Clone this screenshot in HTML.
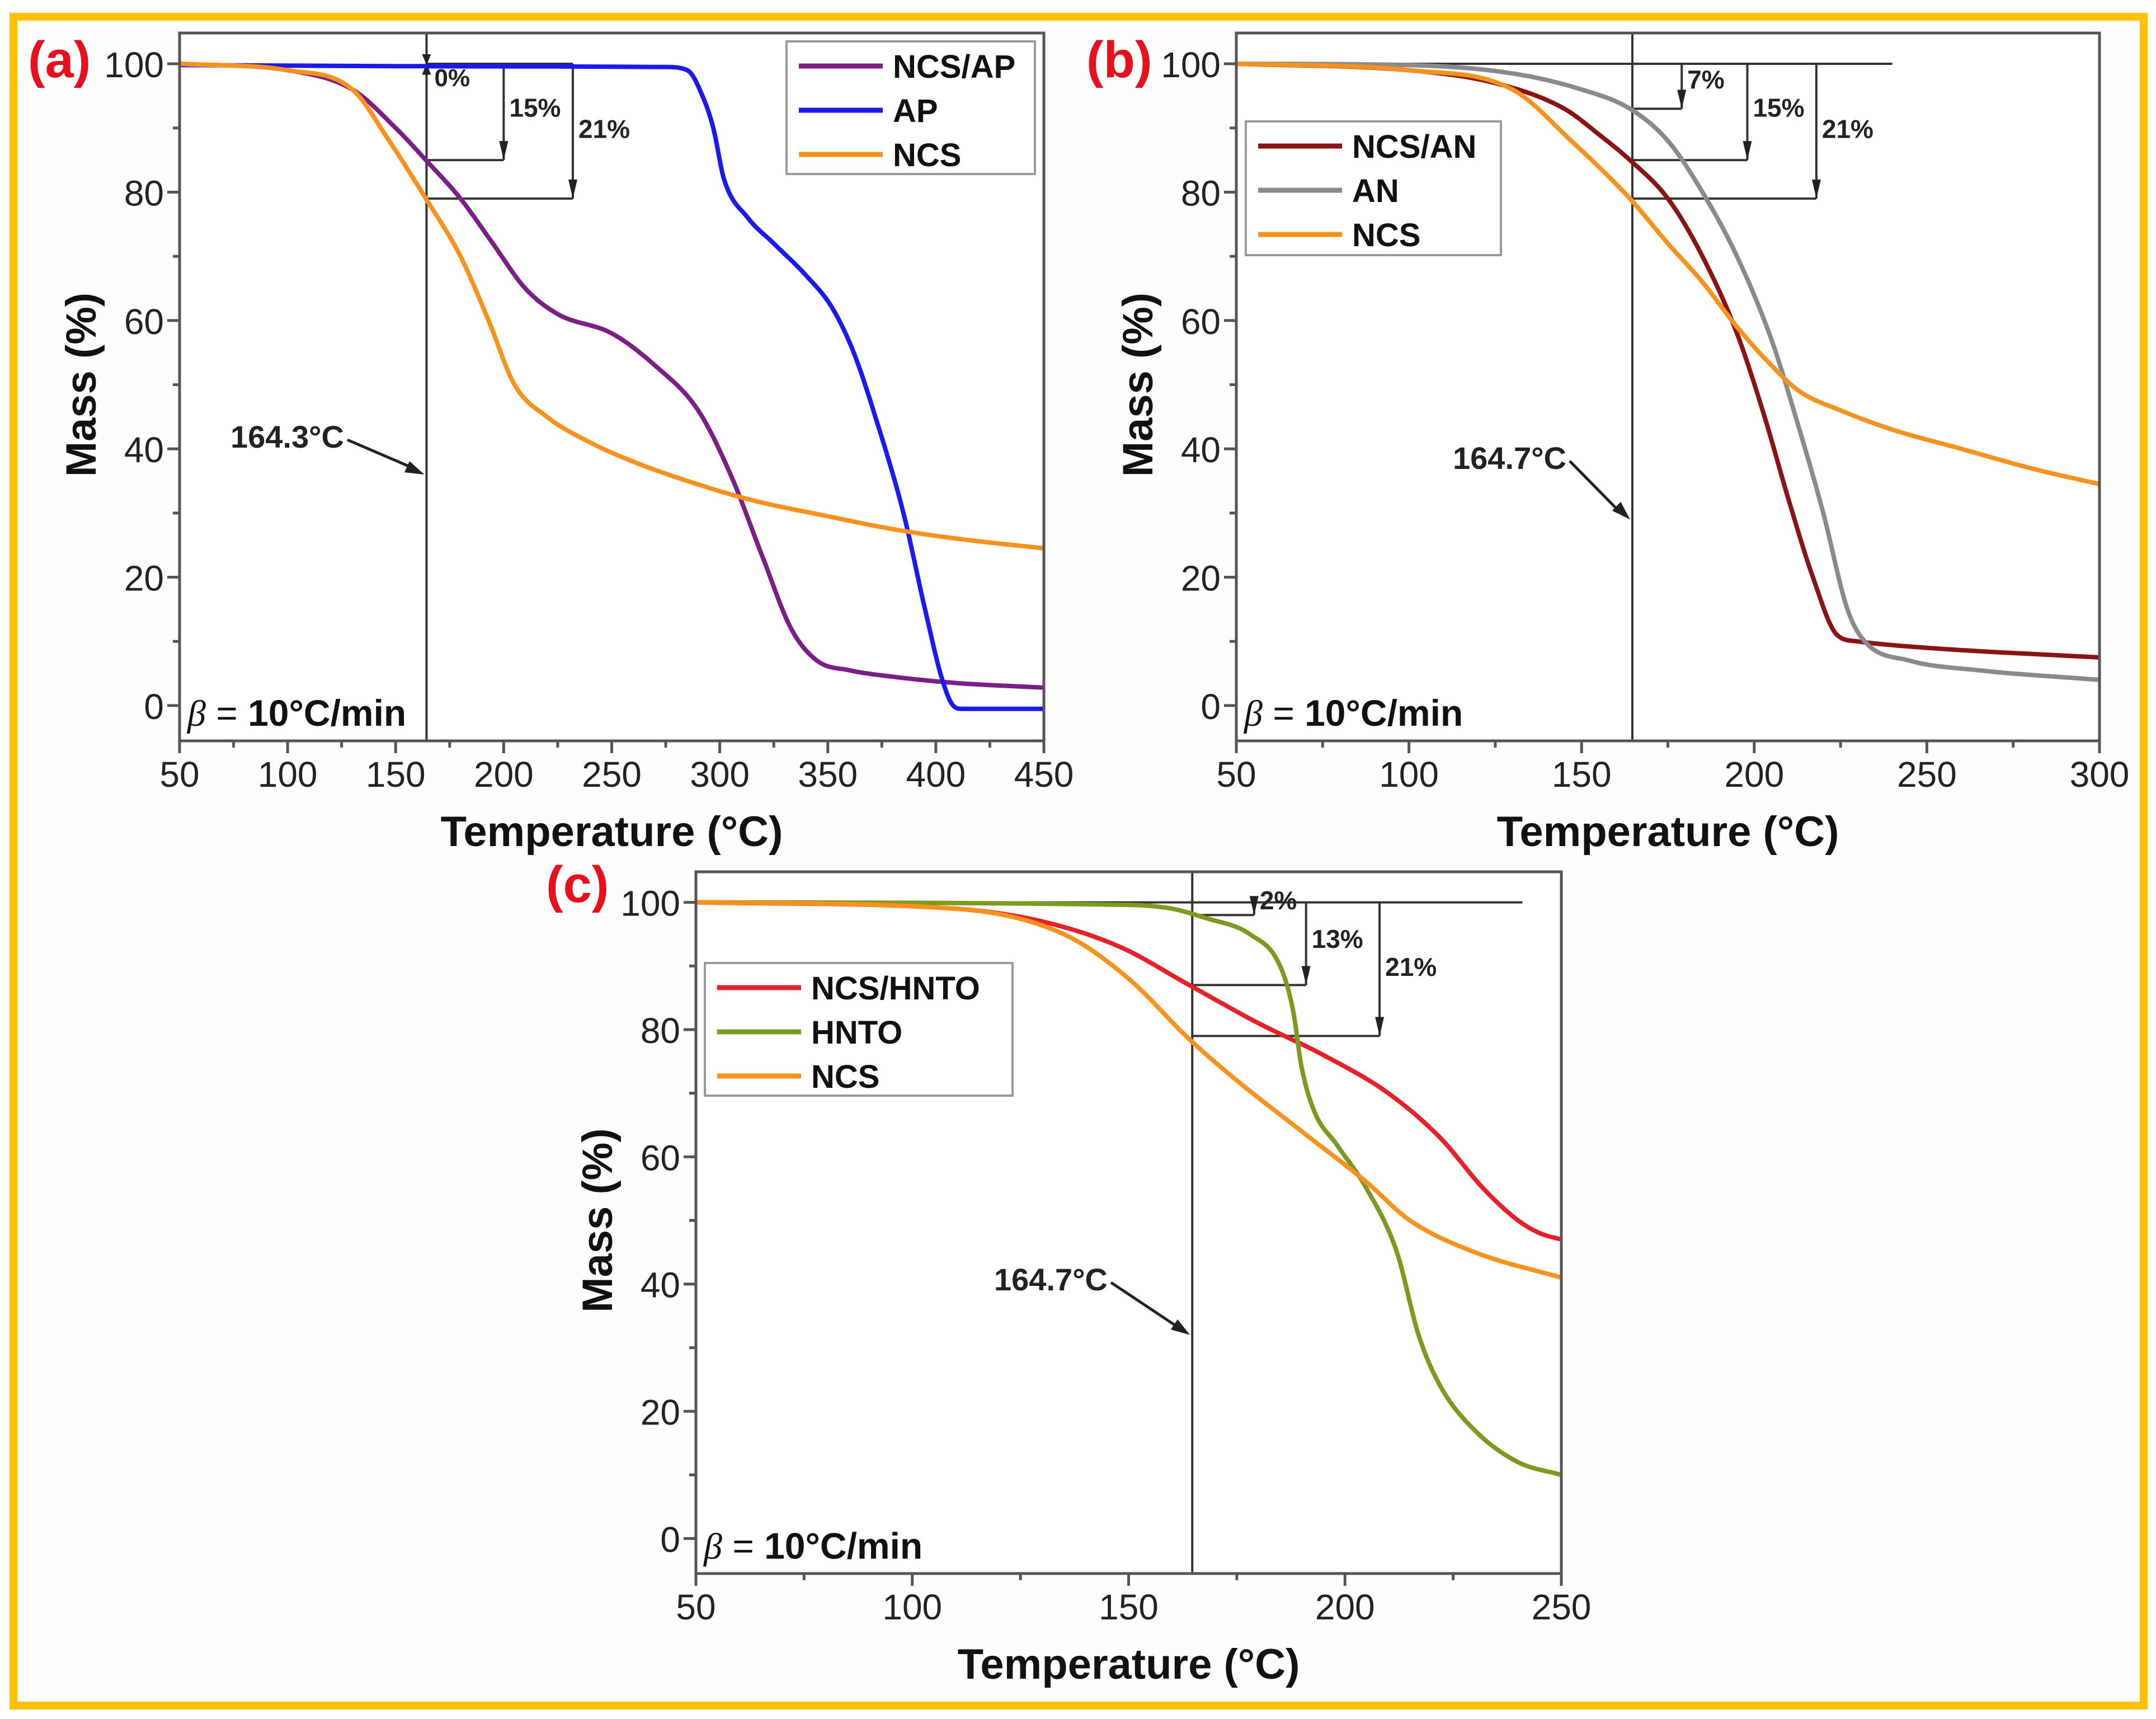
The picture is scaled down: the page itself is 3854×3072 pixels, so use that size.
<!DOCTYPE html>
<html><head><meta charset="utf-8">
<style>
html,body{margin:0;padding:0;background:#fff;}
svg{display:block;font-family:"Liberation Sans",sans-serif;}
</style></head>
<body>
<svg id="fig" width="3854" height="3072" viewBox="0 0 3854 3072" xmlns="http://www.w3.org/2000/svg">
<rect x="0" y="0" width="3854" height="3072" fill="#fff"/>
<rect x="24" y="30" width="3808" height="3018" fill="#fdfdfd" stroke="#FFC000" stroke-width="14"/>
</svg>
<script>
// ---- Panel (a) data ----
const aNcsApX = [50,100,130,150,164,180,195,210,225,250,270,290,305,320,333,345,360,380,410,450];
const aNcsApY = [100,99,96,90,85,79,72,65,61,58,53,46,36,23,12,7,5.5,4.5,3.5,2.8];
const aApX = [50,200,275,285,292,297,302,313,325,340,352,362,372,385,395,403,408,412,450];
const aApY = [99.8,99.6,99.5,99,95,90,82,76,72,67,62,55,45,30,15,4,0,-0.5,-0.5];
const aNcsX = [50,100,130,147,164,180,193,205,220,240,260,285,315,350,380,410,450];
const aNcsY = [100,99,96,88,79,70,60,50,45,41,38,35,32,29.5,27.5,26,24.5];
const aXTicks = [50,100,150,200,250,300,350,400,450];
const aBrackets = [0,15,21];
const aBracketX = [164.3,200,232];
// ---- Panel (b) data ----
const bNcsAnX = [50,100,125,145,155,164,175,185,195,203,210,217,224,230,250,300];
const bNcsAnY = [100,99,97,93,89,85,79,70,58,45,32,20,11,10,9,7.5];
const bAnX = [50,100,130,150,164,175,185,195,205,212,220,227,232,245,265,300];
const bAnY = [100,99.8,98.5,96,93,88,80,70,57,45,30,15,10,7,5.5,4];
const bNcsX = [50,100,130,147,164,175,185,195,205,213,225,240,260,280,300];
const bNcsY = [100,99,96,88,79,72,66,59,53,49,46,43,40,37,34.5];
const bXTicks = [50,100,150,200,250,300];
const bBrackets = [7,15,21];
const bBracketX = [179,198,218];
// ---- Panel (c) data ----
const cNcsHX = [50,110,130,148,164,180,195,210,222,232,240,245,250];
const cNcsHY = [100,99,97,93,87,81,76,70,63,55,50,48,47];
const cHntoX = [50,150,160,168,178,185,188,190,193,198,205,212,217,222,230,240,250];
const cHntoY = [100,99.6,99,97.5,95,90,83,74,67,62,55,45,32,24,17,12,10];
const cNcsX = [50,110,135,150,164,175,190,205,215,230,250];
const cNcsY = [100,99,95,88,78.5,72,64,56,50,45,41];
const cXTicks = [50,100,150,200,250];
const cBrackets = [2,13,21];
const cBracketX = [179,191,208];
const yTicks = [0,20,40,60,80,100];

const NS = "http://www.w3.org/2000/svg";
const svg = document.getElementById('fig');
function mk(tag, attrs, parent){const e=document.createElementNS(NS,tag);for(const k in attrs)e.setAttribute(k,attrs[k]);(parent||svg).appendChild(e);return e;}
function txt(s, attrs, parent){const e=mk('text',attrs,parent);e.textContent=s;return e;}

// monotone cubic (Fritsch-Carlson) sampling in data space
function monoSample(xs, ys, n){
  const m=xs.length, d=[], t=new Array(m);
  for(let i=0;i<m-1;i++) d.push((ys[i+1]-ys[i])/(xs[i+1]-xs[i]));
  t[0]=d[0]; t[m-1]=d[m-2];
  for(let i=1;i<m-1;i++){ t[i]=(d[i-1]*d[i]<=0)?0:(d[i-1]+d[i])/2; }
  for(let i=0;i<m-1;i++){
    if(d[i]===0){t[i]=0;t[i+1]=0;continue;}
    const a=t[i]/d[i], b=t[i+1]/d[i], s=a*a+b*b;
    if(s>9){const k=3/Math.sqrt(s);t[i]=k*a*d[i];t[i+1]=k*b*d[i];}
  }
  const out=[];
  for(let i=0;i<m-1;i++){
    const h=xs[i+1]-xs[i];
    for(let j=0;j<n;j++){
      const u=j/n, u2=u*u, u3=u2*u;
      const y=(2*u3-3*u2+1)*ys[i]+(u3-2*u2+u)*h*t[i]+(-2*u3+3*u2)*ys[i+1]+(u3-u2)*h*t[i+1];
      out.push([xs[i]+u*h,y]);
    }
  }
  out.push([xs[m-1],ys[m-1]]);
  return out;
}

function panel(cfg){
  const g=mk('g',{});
  
  
  const L=cfg.L,R=cfg.R,T=cfg.T,B=cfg.B,ymin=-5.5,ymax=104.8;
  const sx=v=>L+(v-cfg.xmin)/(cfg.xmax-cfg.xmin)*(R-L);
  const sy=v=>B-(v-ymin)/(ymax-ymin)*(B-T);
  mk('rect',{x:L,y:T,width:R-L,height:B-T,fill:'#fff'},g);
  const ag=mk('g',{stroke:'#333','stroke-width':4,fill:'none'},g);
  
  
  const vx=sx(cfg.vline);
  mk('line',{x1:vx,y1:T,x2:vx,y2:B},ag);
  mk('line',{x1:cfg.hStart!=null?sx(cfg.hStart):vx,y1:sy(100),x2:sx(cfg.hEnd),y2:sy(100)},ag);
  cfg.brackets.forEach((p,i)=>{
    const bx=sx(cfg.bx[i]), by=sy(100-p);
    if(p===0){
      mk('line',{x1:vx,y1:sy(104),x2:vx,y2:sy(97)},ag);
      mk('path',{d:`M${vx-8},${sy(101.5)} L${vx+8},${sy(101.5)} L${vx},${sy(99.8)}Z`,fill:'#222',stroke:'none'},g);
      mk('path',{d:`M${vx-8},${sy(98.3)} L${vx+8},${sy(98.3)} L${vx},${sy(100.1)}Z`,fill:'#222',stroke:'none'},g);
      const t=txt(p+'%',{x:vx+14,y:sy(96.5),'font-size':44,'font-weight':'bold',fill:'#222'},g);
      
      
      return;
    }
    mk('line',{x1:vx,y1:by,x2:bx,y2:by},ag);
    mk('line',{x1:bx,y1:sy(100),x2:bx,y2:by},ag);
    mk('path',{d:`M${bx-8},${by-34} L${bx+8},${by-34} L${bx},${by}Z`,fill:'#222'},g);
    const t=txt(p+'%',{x:bx+10,y:sy(100-p*0.55),'font-size':46,'font-weight':'bold',fill:'#222'},g);
    
    
  });
  cfg.series.forEach(s=>{
    const pts=monoSample(s.x,s.y,12).map(p=>[sx(p[0]).toFixed(1),sy(p[1]).toFixed(1)]);
    const d='M'+pts.map(p=>p[0]+','+p[1]).join(' L');
    const p=mk('path',{d:d,fill:'none',stroke:s.color,'stroke-width':8,'stroke-linejoin':'round'},g);
    
    
  });
  const fr=mk('rect',{x:L,y:T,width:R-L,height:B-T,fill:'none',stroke:'#555','stroke-width':5},g);
  
  
  const xt=cfg.xticks, step=xt[1]-xt[0];
  for(let v=cfg.xmin; v<=cfg.xmax+0.01; v+=step/2){
    const major=xt.includes(v);
    mk('line',{x1:sx(v),y1:B,x2:sx(v),y2:B+(major?22:12),stroke:'#555','stroke-width':5},g);
  }
  xt.forEach(v=>{
    const t=txt(String(v),{x:sx(v),y:B+82,'font-size':64,'text-anchor':'middle',fill:'#222'},g);
    
    
  });
  for(let v=0; v<=100; v+=10){
    const major=yTicks.includes(v);
    mk('line',{x1:L,y1:sy(v),x2:L-(major?22:12),y2:sy(v),stroke:'#555','stroke-width':5},g);
  }
  yTicks.forEach(v=>{
    const t=txt(String(v),{x:L-28,y:sy(v)+24,'font-size':64,'text-anchor':'end',fill:'#222'},g);
    
    
  });
  const xtitle=txt('Temperature (°C)',{x:(L+R)/2,y:B+188,'font-size':76,'font-weight':'bold','text-anchor':'middle',fill:'#111'},g);
  
  
  const yt=txt('Mass (%)',{x:0,y:0,'font-size':76,'font-weight':'bold','text-anchor':'middle',fill:'#111',transform:`translate(${L-150},${(sy(100)+sy(0))/2}) rotate(-90)`},g);
  
  
  const pl=txt(cfg.label,{x:cfg.labelX,y:cfg.labelY,'font-size':92,'font-weight':'bold',fill:'#e8101a'},g);
  
  
  const bt=mk('text',{x:L+14,y:sy(0)+36,'font-size':66,fill:'#111'},g);
  
  
  bt.innerHTML='<tspan font-family="Liberation Serif" font-style="italic">β</tspan><tspan> = </tspan><tspan font-weight="bold">10°C/min</tspan>';
  const tl=txt(cfg.tempText,{x:cfg.tempX,y:cfg.tempY,'font-size':56,'font-weight':'bold','text-anchor':'end',fill:'#222'},g);
  
  
  const ax1=cfg.tempX+6, ay1=cfg.tempY-14, ax2=vx-4, ay2=sy(cfg.arrowY);
  mk('line',{x1:ax1,y1:ay1,x2:ax2-14,y2:ay2-9,stroke:'#222','stroke-width':5},g);
  const ang=Math.atan2(ay2-ay1,ax2-ax1);
  const hl=34,hw=11;
  const bxp=ax2-hl*Math.cos(ang), byp=ay2-hl*Math.sin(ang);
  mk('path',{d:`M${ax2},${ay2} L${bxp+hw*Math.sin(ang)},${byp-hw*Math.cos(ang)} L${bxp-hw*Math.sin(ang)},${byp+hw*Math.cos(ang)}Z`,fill:'#222'},g);
  const lg=mk('g',{},g);
  
  
  mk('rect',{x:cfg.lg[0],y:cfg.lg[1],width:cfg.lg[2],height:cfg.lg[3],fill:'#fff',stroke:'#999','stroke-width':4},lg);
  cfg.series.forEach((s,i)=>{
    const yy=cfg.lg[1]+44+i*79;
    const e=mk('g',{},lg);
    
    
    mk('line',{x1:cfg.lg[0]+22,y1:yy,x2:cfg.lg[0]+172,y2:yy,stroke:s.color,'stroke-width':9},e);
    txt(s.label,{x:cfg.lg[0]+190,y:yy+21,'font-size':58,'font-weight':'bold',fill:'#111'},e);
  });
}

panel({name:'panel-a',L:321,R:1866,T:59,B:1324,xmin:50,xmax:450,xticks:aXTicks,
  vline:164.3,hStart:164.3,hEnd:232,brackets:aBrackets,bx:aBracketX,
  label:'(a)',labelX:50,labelY:138,tempText:'164.3°C',tempX:615,tempY:800,arrowY:36,
  lg:[1406,74,444,237],
  series:[{id:'ncs-ap',label:'NCS/AP',color:'#7a1f86',x:aNcsApX,y:aNcsApY},
          {id:'ap',label:'AP',color:'#1a1aef',x:aApX,y:aApY},
          {id:'ncs',label:'NCS',color:'#f7921e',x:aNcsX,y:aNcsY}]});
panel({name:'panel-b',L:2210,R:3753,T:59,B:1324,xmin:50,xmax:300,xticks:bXTicks,
  vline:164.7,hStart:50,hEnd:240,brackets:bBrackets,bx:bBracketX,
  label:'(b)',labelX:1942,labelY:138,tempText:'164.7°C',tempX:2800,tempY:838,arrowY:29,
  lg:[2227,217,456,239],
  series:[{id:'ncs-an',label:'NCS/AN',color:'#8a1313',x:bNcsAnX,y:bNcsAnY},
          {id:'an',label:'AN',color:'#8a8a8a',x:bAnX,y:bAnY},
          {id:'ncs',label:'NCS',color:'#f7921e',x:bNcsX,y:bNcsY}]});
panel({name:'panel-c',L:1244,R:2791,T:1558,B:2812,xmin:50,xmax:250,xticks:cXTicks,
  vline:164.7,hStart:50,hEnd:241,brackets:cBrackets,bx:cBracketX,
  label:'(c)',labelX:976,labelY:1612,tempText:'164.7°C',tempX:1980,tempY:2306,arrowY:32,
  lg:[1260,1721,550,237],
  series:[{id:'ncs-hnto',label:'NCS/HNTO',color:'#e8202a',x:cNcsHX,y:cNcsHY},
          {id:'hnto',label:'HNTO',color:'#7b9a1f',x:cHntoX,y:cHntoY},
          {id:'ncs',label:'NCS',color:'#f7921e',x:cNcsX,y:cNcsY}]});
</script>
</body></html>
